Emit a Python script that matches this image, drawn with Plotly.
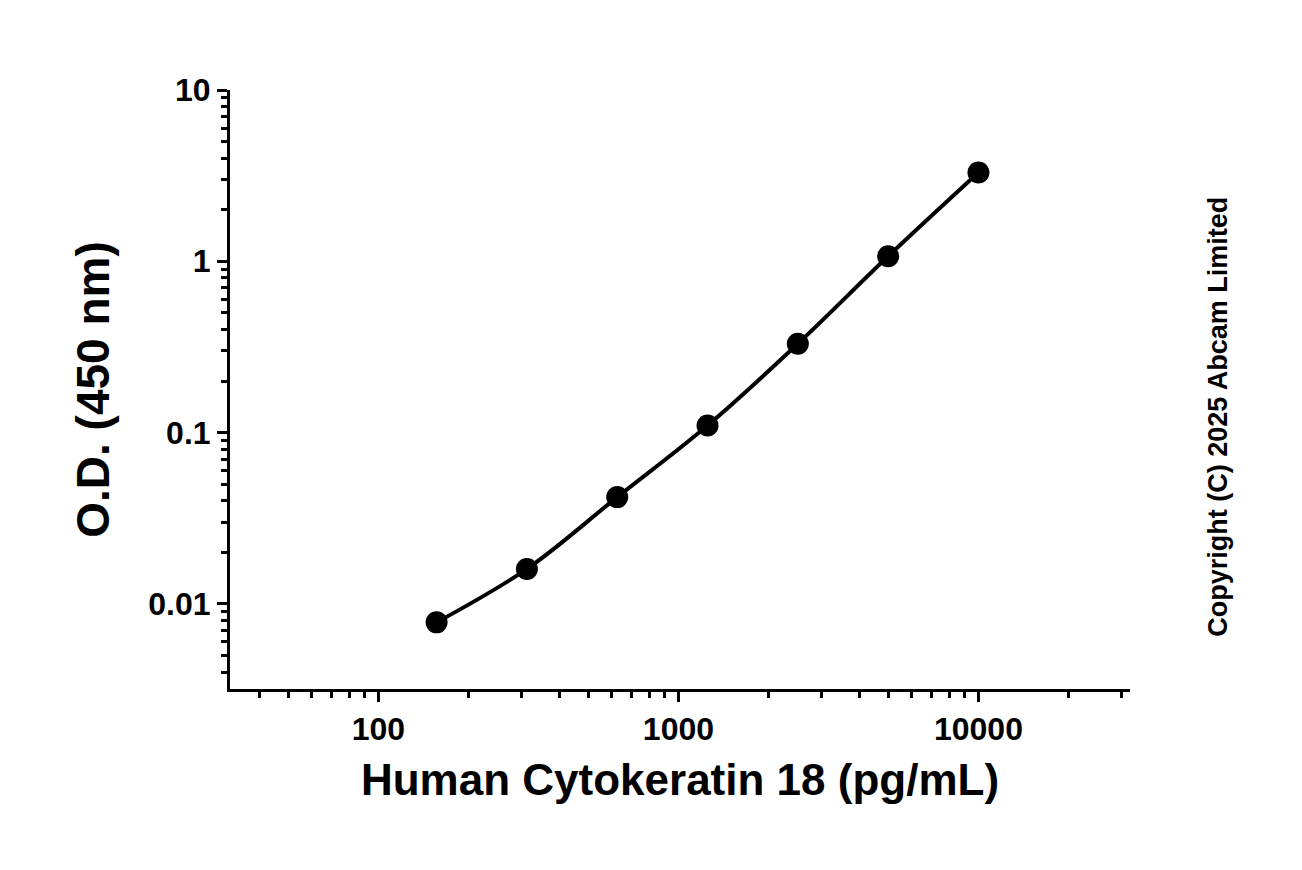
import numpy as np
import plotly.graph_objects as go

conc = [156.25, 312.5, 625, 1250, 2500, 5000, 10000]
od = [0.0078, 0.016, 0.042, 0.11, 0.33, 1.07, 3.3]

x_major = [100, 1000, 10000]
x_labels = ["100", "1000", "10000"]
y_major = [0.01, 0.1, 1, 10]
y_labels = ["0.01", "0.1", "1", "10"]

x_minor = [m * 10**e for e in range(1, 5) for m in range(2, 10) if 30 < m * 10**e < 32000]
y_minor = [m * 10.0**e for e in range(-3, 1) for m in range(2, 10) if 0.0032 < m * 10.0**e < 10]

font = dict(family="Liberation Sans", color="black")

fig = go.Figure()
fig.add_trace(go.Scatter(
    x=conc, y=od, mode="lines+markers",
    line=dict(color="black", width=4, shape="spline"),
    marker=dict(color="black", size=22),
    showlegend=False,
))

fig.update_xaxes(
    type="log", range=[np.log10(32), np.log10(32000)],
    tickvals=x_major, ticktext=["<b>%s</b>" % t for t in x_labels],
    ticks="outside", ticklen=10, tickwidth=3, tickcolor="black",
    minor=dict(tickvals=x_minor, ticks="outside", ticklen=6, tickwidth=3, tickcolor="black"),
    showline=True, linewidth=3, linecolor="black", showgrid=False, zeroline=False,
    tickfont=dict(size=32, **font),
    title=dict(text="<b>Human Cytokeratin 18 (pg/mL)</b>", font=dict(size=44, **font), standoff=18),
)
fig.update_yaxes(
    type="log", range=[-2.497, 1],
    tickvals=y_major, ticktext=["<b>%s</b>" % t for t in y_labels],
    ticks="outside", ticklen=10, tickwidth=3, tickcolor="black",
    minor=dict(tickvals=y_minor, ticks="outside", ticklen=6, tickwidth=3, tickcolor="black"),
    showline=True, linewidth=3, linecolor="black", showgrid=False, zeroline=False,
    tickfont=dict(size=32, **font),
    title=dict(text="<b>O.D. (450 nm)</b>", font=dict(size=46, **font), standoff=25),
)

fig.add_annotation(
    text="<b>Copyright (C) 2025 Abcam Limited</b>", textangle=-90,
    xref="paper", yref="paper", x=1.117, y=0.455, showarrow=False,
    font=dict(size=27, **font),
)

fig.update_layout(
    width=1302, height=870,
    margin=dict(l=222, r=180, t=82, b=189),
    plot_bgcolor="white", paper_bgcolor="white",
)

fig.write_html("out.html")
